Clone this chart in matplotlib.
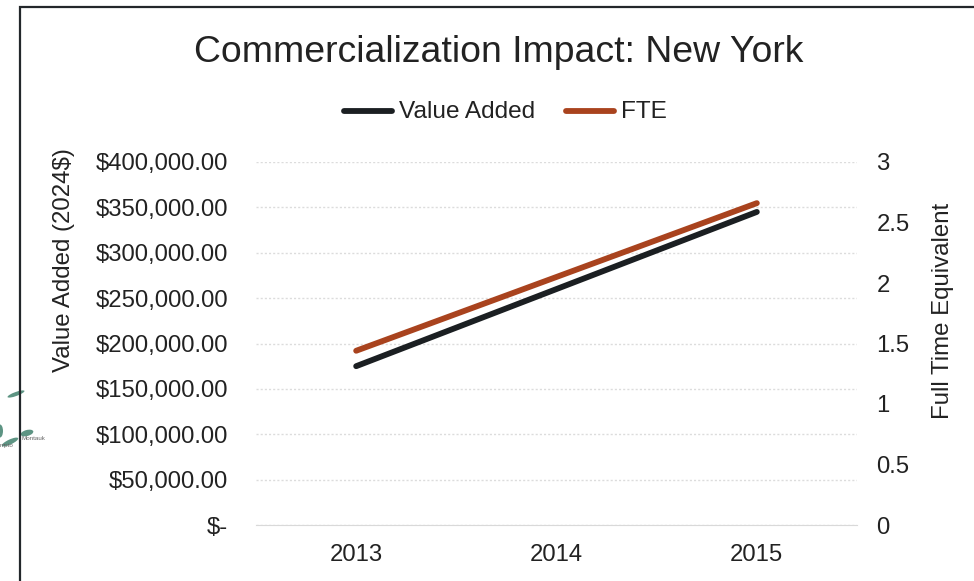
import matplotlib
matplotlib.use("Agg")
import matplotlib.pyplot as plt
from matplotlib.lines import Line2D
from matplotlib.patches import Ellipse
from matplotlib.transforms import IdentityTransform

years = ["2013", "2014", "2015"]
value_added = [175000, 260000, 345000]
fte = [1.44, 2.05, 2.66]
left_ticks = [0, 50000, 100000, 150000, 200000, 250000, 300000, 350000, 400000]
left_labels = ["$-", "$50,000.00", "$100,000.00", "$150,000.00", "$200,000.00",
               "$250,000.00", "$300,000.00", "$350,000.00", "$400,000.00"]
right_ticks = [0, 0.5, 1, 1.5, 2, 2.5, 3]
right_labels = ["0", "0.5", "1", "1.5", "2", "2.5", "3"]

BLACK = "#1b1f22"
RUST = "#a9431e"
TEXT = "#222222"
W, H = 974, 581

plt.rcParams["font.family"] = ["Liberation Sans", "DejaVu Sans"]

fig = plt.figure(figsize=(W / 100, H / 100), dpi=100, facecolor="white")

# plot area in pixels
ax = fig.add_axes([256 / W, 1 - 525 / H, (857 - 256) / W, (525 - 162) / H])
xpos = range(len(years))
ax.plot(xpos, value_added, color=BLACK, lw=4.2, solid_capstyle="round", zorder=3)
ax.set_xlim(-0.5, 2.5)
ax.set_ylim(0, 400000)
ax.set_xticks(list(xpos), years)
ax.set_yticks(left_ticks, left_labels)
ax.grid(axis="y", color="#dcdcdc", lw=1.0, ls=(0, (1.5, 1.5)))
ax.set_axisbelow(True)
ax.tick_params(length=0, labelsize=17.2, colors=TEXT)
ax.tick_params(axis="x", pad=14)
ax.tick_params(axis="y", pad=20)
for s in ["top", "left", "right"]:
    ax.spines[s].set_visible(False)
ax.spines["bottom"].set_color("#d9d9d9")

ax2 = ax.twinx()
ax2.plot(xpos, fte, color=RUST, lw=4.2, solid_capstyle="round", zorder=3)
ax2.set_ylim(0, 3)
ax2.set_yticks(right_ticks, right_labels)
ax2.tick_params(length=0, labelsize=17.2, colors=TEXT, pad=14)
for s in ax2.spines.values():
    s.set_visible(False)

fig.text(499 / W, 1 - 52 / H, "Commercialization Impact: New York", fontsize=26.9,
         color=TEXT, ha="center", va="center")
fig.text(64 / W, 1 - 260 / H, "Value Added (2024$)", fontsize=17.3, color=TEXT,
         rotation=90, ha="center", va="center")
fig.text(943 / W, 1 - 311 / H, "Full Time Equivalent", fontsize=17.3, color=TEXT,
         rotation=90, ha="center", va="center")

# legend placed by hand, the keys touch the labels
fig.add_artist(Line2D([344 / W, 392 / W], [1 - 111 / H] * 2, color=BLACK, lw=4.2,
                      solid_capstyle="round"))
fig.text(399 / W, 1 - 112.5 / H, "Value Added", fontsize=17.6, color=TEXT, va="center")
fig.add_artist(Line2D([566 / W, 614 / W], [1 - 111 / H] * 2, color=RUST, lw=4.2,
                      solid_capstyle="round"))
fig.text(621 / W, 1 - 112.5 / H, "FTE", fontsize=17.6, color=TEXT, va="center")

# map pieces showing behind the chart frame
for cx, cy, w, h, ang in [(16, 394, 18, 4, 20), (0, 431, 6, 13, 0), (10, 442, 18, 5, 25),
                          (27, 433, 13, 6, 15)]:
    fig.add_artist(Ellipse((cx, H - cy), w, h, angle=ang, color="#5d9483", lw=0,
                           transform=IdentityTransform()))
fig.text(22 / W, 1 - 438 / H, "Montauk", fontsize=4.5, color="#666666", va="center")
fig.text(0, 1 - 446 / H, "mpto", fontsize=4.5, color="#666666", va="center")

# chart frame, cut off by the screenshot
fig.add_artist(Line2D([19.5 / W, 19.5 / W, 1], [0, 1 - 7 / H, 1 - 7 / H], color="#23272b",
                      lw=1.6, solid_joinstyle="miter"))

fig.savefig("out.png", dpi=100, facecolor="white")
